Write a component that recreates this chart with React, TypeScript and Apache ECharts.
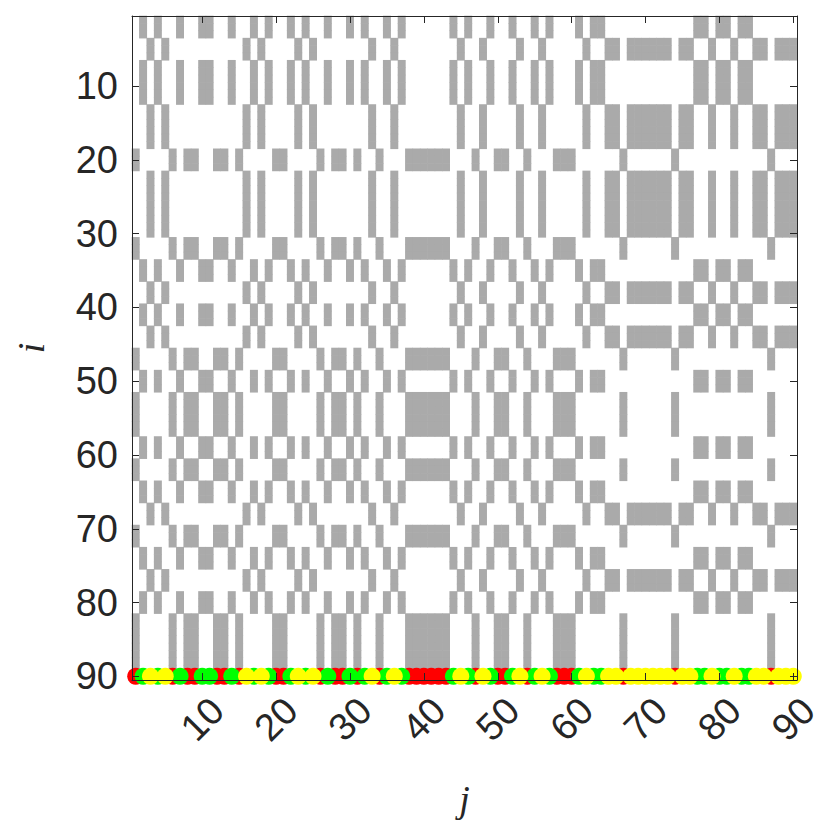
import React, { useEffect, useRef } from "react";
import * as echarts from "echarts";

const redCols = [1, 6, 8, 9, 12, 13, 15, 20, 21, 26, 28, 29, 31, 34, 38, 39, 40, 41, 42, 43, 47, 50, 51, 54, 58, 59, 60, 67, 74, 87];
const greenCols = [2, 4, 7, 10, 11, 14, 17, 19, 22, 24, 27, 30, 32, 35, 37, 44, 46, 49, 52, 55, 57, 61, 63, 64, 77, 78, 80, 81, 83, 84];
const yellowCols = [3, 5, 16, 18, 23, 25, 33, 36, 45, 48, 53, 56, 62, 65, 66, 68, 69, 70, 71, 72, 73, 75, 76, 79, 82, 85, 86, 88, 89, 90];

// Row classes (i index)
const redRows = [19, 20, 21, 31, 32, 33, 46, 47, 48, 52, 53, 54, 55, 56, 57, 61, 62, 63, 70, 71, 72, 82, 83, 84, 85, 86, 87, 88, 89, 90];
const greenRows = [1, 2, 3, 7, 8, 9, 10, 11, 12, 34, 35, 36, 40, 41, 42, 49, 50, 51, 58, 59, 60, 64, 65, 66, 73, 74, 75, 79, 80, 81];
const yellowRows = [4, 5, 6, 13, 14, 15, 16, 17, 18, 22, 23, 24, 25, 26, 27, 28, 29, 30, 37, 38, 39, 43, 44, 45, 67, 68, 69, 76, 77, 78];

const markerRow = 90;
const tickValues = [10, 20, 30, 40, 50, 60, 70, 80, 90];

const AXIS_COLOR = "#262626";

function buildCells(): number[][] {
  const cells: number[][] = [];
  const pairs: [number[], number[]][] = [
    [redRows, redCols],
    [greenRows, greenCols],
    [yellowRows, yellowCols],
  ];
  for (const [rows, cols] of pairs) {
    for (const i of rows) for (const j of cols) cells.push([j, i]);
  }
  return cells;
}

export default function App() {
  const ref = useRef<HTMLDivElement>(null);
  useEffect(() => {
    if (!ref.current) return;
    const chart = echarts.init(ref.current, null, { renderer: "svg" });
    const baseAxis = {
      type: "value" as const,
      min: 0.5,
      max: 90.5,
      z: 10,
      splitLine: { show: false },
      axisLine: { show: true, onZero: false, lineStyle: { color: AXIS_COLOR, width: 1 } },
      axisTick: {
        show: true,
        inside: true,
        length: 7,
        customValues: tickValues,
        lineStyle: { color: AXIS_COLOR, width: 1 },
      },
    };
    const labelStyle = {
      fontFamily: "Liberation Sans",
      fontSize: 38,
      color: AXIS_COLOR,
    };
    chart.setOption({
      animation: false,
      backgroundColor: "#ffffff",
      grid: {
        left: 132,
        right: 33,
        top: 16,
        bottom: 150,
        containLabel: false,
        outerBoundsMode: "none",
      },
      xAxis: [
        {
          ...baseAxis,
          position: "bottom",
          name: "j",
          nameLocation: "middle",
          nameGap: 100,
          nameTextStyle: {
            fontFamily: "Liberation Serif",
            fontStyle: "italic",
            fontSize: 38,
            color: AXIS_COLOR,
          },
          axisLabel: {
            ...labelStyle,
            customValues: tickValues,
            rotate: 45,
            align: "center",
            verticalAlign: "middle",
            margin: 39,
          },
        },
        {
          ...baseAxis,
          position: "top",
          axisLabel: { show: false },
        },
      ],
      yAxis: [
        {
          ...baseAxis,
          inverse: true,
          position: "left",
          name: "i",
          nameLocation: "middle",
          nameGap: 82,
          nameTextStyle: {
            fontFamily: "Liberation Serif",
            fontStyle: "italic",
            fontSize: 38,
            color: AXIS_COLOR,
          },
          axisLabel: { ...labelStyle, customValues: tickValues, margin: 14 },
        },
        {
          ...baseAxis,
          inverse: true,
          position: "right",
          axisLabel: { show: false },
        },
      ],
      series: [
        {
          type: "custom",
          xAxisIndex: 0,
          yAxisIndex: 0,
          encode: { x: 0, y: 1 },
          data: buildCells(),
          z: 2,
          renderItem: (params: any, api: any) => {
            const j = api.value(0);
            const i = api.value(1);
            const p0 = api.coord([j - 0.5, i - 0.5]);
            const p1 = api.coord([j + 0.5, i + 0.5]);
            const pad = 0.3;
            return {
              type: "rect",
              shape: {
                x: Math.min(p0[0], p1[0]) - pad,
                y: Math.min(p0[1], p1[1]) - pad,
                width: Math.abs(p1[0] - p0[0]) + 2 * pad,
                height: Math.abs(p1[1] - p0[1]) + 2 * pad,
              },
              style: { fill: "#aaaaaa" },
            };
          },
        },
        {
          type: "scatter",
          data: redCols.map((j) => [j, markerRow]),
          symbol: "circle",
          symbolSize: 17,
          itemStyle: { color: "#ff0000", opacity: 1 },
          clip: false,
          z: 3,
        },
        {
          type: "scatter",
          data: greenCols.map((j) => [j, markerRow]),
          symbol: "circle",
          symbolSize: 17,
          itemStyle: { color: "#00ff00", opacity: 1 },
          clip: false,
          z: 4,
        },
        {
          type: "scatter",
          data: yellowCols.map((j) => [j, markerRow]),
          symbol: "circle",
          symbolSize: 17,
          itemStyle: { color: "#ffff00", opacity: 1 },
          clip: false,
          z: 5,
        },
      ],
    });
    return () => chart.dispose();
  }, []);
  return (
    <div
      ref={ref}
      style={{ position: "fixed", left: 0, top: 0, width: 830, height: 830 }}
    />
  );
}
